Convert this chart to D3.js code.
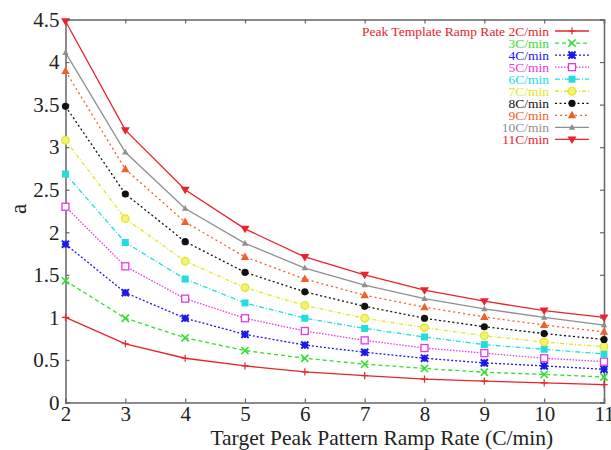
<!DOCTYPE html>
<html><head><meta charset="utf-8">
<script src="https://cdn.jsdelivr.net/npm/d3@7"></script>
<style>body{margin:0;background:#fff}svg{display:block}
svg text{font-family:'Liberation Serif','Times New Roman',serif !important;}</style>
</head><body><svg id="c" width="611" height="450"></svg>
<script>
const xs = [2,3,4,5,6,7,8,9,10,11];
const labels = ["Peak Template Ramp Rate 2C/min","3C/min","4C/min","5C/min","6C/min","7C/min","8C/min","9C/min","10C/min","11C/min"];
const s2  = [1.00,0.69,0.52,0.43,0.36,0.315,0.275,0.25,0.23,0.21];
const s3  = [1.43,0.99,0.76,0.61,0.52,0.45,0.40,0.355,0.33,0.30];
const s4  = [1.86,1.29,0.99,0.80,0.675,0.59,0.52,0.465,0.43,0.39];
const s5  = [2.30,1.60,1.22,0.99,0.84,0.73,0.64,0.58,0.52,0.48];
const s6  = [2.685,1.88,1.45,1.17,0.99,0.87,0.77,0.68,0.625,0.57];
const s7  = [3.08,2.16,1.66,1.35,1.14,0.99,0.88,0.785,0.71,0.655];
const s8  = [3.48,2.45,1.89,1.53,1.30,1.13,0.99,0.89,0.81,0.74];
const s9  = [3.895,2.74,2.12,1.71,1.45,1.26,1.12,1.005,0.91,0.83];
const s10 = [4.11,2.94,2.28,1.87,1.58,1.38,1.22,1.10,1.00,0.91];
const s11 = [4.48,3.20,2.50,2.04,1.71,1.50,1.32,1.19,1.08,1.00];
const yTicks = [0,0.5,1,1.5,2,2.5,3,3.5,4,4.5];
const yTickLabels = ["0","0.5","1","1.5","2","2.5","3","3.5","4","4.5"];

const series = [s2,s3,s4,s5,s6,s7,s8,s9,s10,s11];
const colors = ["#e8232b","#33dd33","#1a1aee","#e23be2","#22dddd","#e6e622","#111111","#f0602a","#8f8f8f","#e8232b"];
const dashes = [null,"4,3","2,2","1.5,1.5","5,2,1,2","4,2,1,2","2,2.5","2,3",null,null];
const markers = ["plus","cross","star","osquare","fsquare","ocircle","fcircle","ftri","ftri_s","fdtri"];

const svg = d3.select("#c");
const L=65.5, R=604, T=19.5, B=402.5;
const x = d3.scaleLinear().domain([2,11]).range([L,R]);
const y = d3.scaleLinear().domain([0,4.5]).range([B,T]);
const axisCol = "#666";

// axes
const gB = svg.append("g").attr("transform",`translate(0,${B})`)
  .call(d3.axisBottom(x).tickValues(xs).tickSize(-4).tickPadding(7).tickFormat(d3.format("d")));
const gT = svg.append("g").attr("transform",`translate(0,${T})`)
  .call(d3.axisTop(x).tickValues(xs).tickSize(-4).tickFormat(""));
const gL = svg.append("g").attr("transform",`translate(${L},0)`)
  .call(d3.axisLeft(y).tickValues(yTicks).tickSize(-4).tickPadding(6).tickFormat((d,i)=>yTickLabels[i]));
const gR = svg.append("g").attr("transform",`translate(${R},0)`)
  .call(d3.axisRight(y).tickValues(yTicks).tickSize(-4).tickFormat(""));
[gB,gT,gL,gR].forEach(g=>{
  g.attr("font-family",null);
  g.select(".domain").attr("stroke",axisCol).attr("stroke-width",1.5);
  g.selectAll(".tick line").attr("stroke",axisCol).attr("stroke-width",1.2);
  g.selectAll(".tick text").attr("font-size",21).attr("fill","#222");
});
gB.selectAll(".tick text").attr("y",4).attr("dy","0.71em");

// titles
svg.append("text").attr("x",(L+R)/2+47).attr("y",445).attr("text-anchor","middle")
  .attr("font-size",21.5).attr("fill","#222")
  .text("Target Peak Pattern Ramp Rate (C/min)");
svg.append("text").attr("x",19).attr("y",209).attr("text-anchor","middle")
  .attr("font-size",23).attr("fill","#222")
  .attr("transform","rotate(-90,19,209)").attr("dy","0.3em").text("a");

function drawMarker(g,type,cx,cy,col){
  const s=3.6;
  switch(type){
    case "plus":
      g.append("path").attr("d",`M${cx-s},${cy}H${cx+s}M${cx},${cy-s}V${cy+s}`).attr("stroke",col).attr("stroke-width",1.2);break;
    case "cross":
      g.append("path").attr("d",`M${cx-s},${cy-s}L${cx+s},${cy+s}M${cx-s},${cy+s}L${cx+s},${cy-s}`).attr("stroke",col).attr("stroke-width",1.6);break;
    case "star":
      g.append("path").attr("d",`M${cx-s},${cy-s}L${cx+s},${cy+s}M${cx-s},${cy+s}L${cx+s},${cy-s}M${cx-s},${cy}H${cx+s}M${cx},${cy-s}V${cy+s}`).attr("stroke",col).attr("stroke-width",2);
      g.append("rect").attr("x",cx-2.5).attr("y",cy-2.5).attr("width",5).attr("height",5).attr("fill",col);break;
    case "osquare":
      g.append("rect").attr("x",cx-3.5).attr("y",cy-3.5).attr("width",7).attr("height",7).attr("fill","#fff").attr("stroke",col).attr("stroke-width",1.3);break;
    case "fsquare":
      g.append("rect").attr("x",cx-3.5).attr("y",cy-3.5).attr("width",7).attr("height",7).attr("fill",col);break;
    case "ocircle":
      g.append("circle").attr("cx",cx).attr("cy",cy).attr("r",3.8).attr("fill","#f2f27a").attr("stroke",col).attr("stroke-width",1.3);break;
    case "fcircle":
      g.append("circle").attr("cx",cx).attr("cy",cy).attr("r",3.6).attr("fill",col);break;
    case "ftri":
      g.append("path").attr("d",`M${cx},${cy-4.5}L${cx+4.2},${cy+3}L${cx-4.2},${cy+3}Z`).attr("fill",col);break;
    case "ftri_s":
      g.append("path").attr("d",`M${cx},${cy-3.5}L${cx+3.2},${cy+2.3}L${cx-3.2},${cy+2.3}Z`).attr("fill",col);break;
    case "fdtri":
      g.append("path").attr("d",`M${cx},${cy+4.5}L${cx+4.5},${cy-3}L${cx-4.5},${cy-3}Z`).attr("fill",col);break;
  }
}

const line = d3.line().x((d,i)=>x(xs[i])).y(d=>y(d));
series.forEach((s,k)=>{
  const g = svg.append("g");
  g.append("path").datum(s).attr("d",line).attr("fill","none")
    .attr("stroke",colors[k]).attr("stroke-width",1.3)
    .attr("stroke-dasharray",dashes[k]);
  s.forEach((v,i)=>drawMarker(g,markers[k],x(xs[i]),y(v),colors[k]));
});

// legend
const legX = 549, legY0 = 31, legDy = 12.05;
labels.forEach((lab,k)=>{
  const yy = legY0 + k*legDy;
  svg.append("text").attr("x",legX).attr("y",yy).attr("dy","0.35em").attr("text-anchor","end")
    .attr("font-size",13.5).attr("fill",colors[k]).text(lab);
  svg.append("line").attr("x1",555).attr("x2",589).attr("y1",yy).attr("y2",yy)
    .attr("stroke",colors[k]).attr("stroke-width",1.3).attr("stroke-dasharray",dashes[k]);
  drawMarker(svg,markers[k],572,yy,colors[k]);
});
</script></body></html>
